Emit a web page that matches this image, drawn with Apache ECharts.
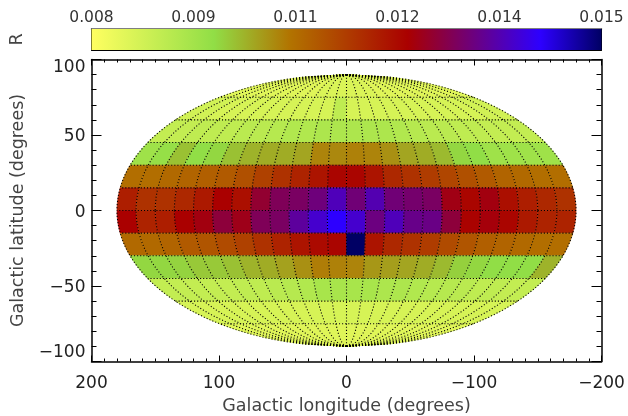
<!DOCTYPE html>
<html><head><meta charset="utf-8">
<style>html,body{margin:0;padding:0;background:#fff}#c{width:628px;height:416px}</style>
<script src="https://cdn.jsdelivr.net/npm/echarts@6/dist/echarts.min.js"></script>
</head><body><div id="c"></div>
<script>
// Colour bar
const colorbarTickLabels = ["0.008","0.009","0.011","0.012","0.014","0.015"];
const valueMin = 0.008, valueMax = 0.015;
const rampStops = [
  [0.00,[255,255,96]],[0.24,[145,222,70]],[0.39,[178,115,0]],[0.50,[175,60,0]],
  [0.62,[170,0,0]],[0.88,[45,0,255]],[1.00,[0,0,100]]
];
// Cell edges (degrees)
const lonEdges = [180,165,150,135,120,105,90,75,60,45,30,15,0,-15,-30,-45,-60,-75,-90,-105,-120,-135,-150,-165,-180];
const latEdges = [90,75,60,45,30,15,0,-15,-30,-45,-60,-75,-90];
// Cell values, one row per latitude band, from north to south, longitude 180 to -180
const bandN75 = [.00849,.00849,.00849,.00849,.00849,.00849,.00849,.00849,.00849,.00856,.00856,.00856,.00856,.00856,.00856,.00849,.00849,.00849,.00849,.00849,.00849,.00849,.00849,.00849];
const bandN60 = [.0087,.0087,.00863,.00863,.00863,.00863,.00863,.00863,.00863,.00863,.00863,.00898,.00863,.00863,.00863,.00863,.00863,.00863,.00863,.00863,.00863,.00863,.0087,.0087];
const bandN45 = [.00891,.00891,.00898,.00898,.00898,.00905,.00905,.00912,.00919,.00919,.00926,.00926,.00926,.00926,.00926,.00919,.00912,.00905,.00905,.00898,.00898,.00891,.00891,.00891];
const bandN30 = [.00947,.00961,.00996,.00968,.00975,.00996,.0101,.01017,.01017,.01024,.01056,.01052,.01059,.01056,.01045,.01024,.01017,.01003,.00975,.00968,.00947,.00947,.00947,.00947];
const bandN15 = [.0108,.0108,.01087,.01094,.01101,.01108,.01122,.01143,.01164,.01185,.01206,.01227,.01227,.01206,.01178,.01164,.0115,.01136,.01122,.01108,.01094,.01087,.0108,.0108];
const bandN00 = [.01192,.01164,.01164,.01178,.01199,.01234,.01213,.01269,.01297,.01304,.01322,.01367,.01318,.0136,.01318,.01311,.01304,.01248,.01227,.01245,.01213,.01192,.01178,.01164];
const bandS00 = [.01234,.01185,.01192,.01234,.01245,.01276,.01252,.01297,.01304,.01346,.01381,.01416,.01381,.01325,.01367,.01332,.01329,.01276,.01231,.01241,.01227,.01199,.01185,.01185];
const bandS15 = [.01087,.01087,.01094,.01108,.01115,.01129,.01143,.01164,.01185,.01206,.0122,.01227,.015,.01206,.01178,.01164,.0115,.01129,.01115,.01101,.01094,.01087,.0108,.0108];
const bandS30 = [.00975,.00975,.00979,.00989,.00989,.00996,.0101,.01017,.01028,.01045,.01063,.01059,.01056,.01038,.01031,.01024,.01017,.01003,.00982,.00975,.00968,.00968,.00968,.0101];
const bandS45 = [.00891,.00891,.00891,.00891,.00891,.00898,.00898,.00905,.00912,.00919,.00933,.00933,.00933,.00933,.00926,.00926,.00919,.00912,.00912,.00905,.00898,.00898,.00891,.00891];
const bandS60 = [.00863,.00863,.00863,.00863,.00863,.00863,.00863,.00863,.00863,.00863,.00863,.00863,.00863,.00863,.00863,.00863,.00863,.00863,.00863,.00863,.00863,.00863,.00863,.00863];
const bandS75 = [.00849,.00849,.00849,.00849,.00849,.00849,.00849,.00849,.00849,.00849,.00849,.00849,.00849,.00849,.00849,.00849,.00849,.00849,.00849,.00849,.00849,.00849,.00849,.00849];
const bands = [bandN75,bandN60,bandN45,bandN30,bandN15,bandN00,bandS00,bandS15,bandS30,bandS45,bandS60,bandS75];
// Graticule (degrees)
const meridians = lonEdges;
const parallels = [75,60,45,30,15,0,-15,-30,-45,-60,-75];

function rampColor(v){
  const t = Math.min(1,Math.max(0,(v-valueMin)/(valueMax-valueMin)));
  for(let i=1;i<rampStops.length;i++){
    if(t<=rampStops[i][0]){
      const a=rampStops[i-1],b=rampStops[i],f=(t-a[0])/(b[0]-a[0]);
      return 'rgb('+a[1].map((c,k)=>Math.round(c+(b[1][k]-c)*f)).join(',')+')';
    }
  }
  return 'rgb(0,0,100)';
}
function project(lon,lat){ return [lon*Math.sqrt(Math.max(0,1-(lat/90)*(lat/90))),lat]; }

const cellData=[];
bands.forEach((row,r)=>row.forEach((v,c)=>cellData.push([lonEdges[c],lonEdges[c+1],latEdges[r],latEdges[r+1],v])));

function renderCell(params,api){
  const lonA=api.value(0),lonB=api.value(1),latA=api.value(2),latB=api.value(3);
  const pts=[];
  for(let i=0;i<=8;i++){const la=latA+(latB-latA)*i/8;pts.push(api.coord(project(lonA,la)));}
  for(let i=8;i>=0;i--){const la=latA+(latB-latA)*i/8;pts.push(api.coord(project(lonB,la)));}
  const col=rampColor(api.value(4));
  return {type:'polygon',shape:{points:pts},style:{fill:col,stroke:col,lineWidth:0.6}};
}
const stepsNorth=[];for(let la=90;la>=0;la-=1.5)stepsNorth.push(la);
const stepsSouth=stepsNorth.map(la=>-la);
const stepsLon=[];for(let lo=-180;lo<=180;lo+=3)stepsLon.push(lo);
const dotted={color:'#000',width:1.1,type:[1.1,2]};
const lineBase={type:'line',xAxisIndex:2,yAxisIndex:2,silent:true,showSymbol:false,symbol:'none',z:5,lineStyle:dotted};
const gridLines=[];
meridians.forEach(m=>{
  gridLines.push({...lineBase,data:stepsNorth.map(la=>project(m,la))});
  gridLines.push({...lineBase,data:stepsSouth.map(la=>project(m,la))});
});
parallels.forEach(p=>gridLines.push({...lineBase,data:stepsLon.map(lo=>project(lo,p))}));

const blackLine={show:true,onZero:false,lineStyle:{color:'#000',width:1.5}};
const tickStyle={color:'#000',width:1};
const tickFont={fontFamily:'DejaVu Sans',fontSize:17,color:'#222'};
const titleFont={fontFamily:'DejaVu Sans',fontSize:17.5,color:'#444'};
const fmtMinus=v=>String(v).replace('-','\u2212');
const fmtLat=v=>(Math.abs(v)===100?fmtMinus(v):'{m|'+fmtMinus(v)+'}');

const barStops=rampStops.map(s=>({offset:s[0],color:'rgb('+s[1].join(',')+')'}));

const chart=echarts.init(document.getElementById('c'),null,{renderer:'canvas'});
chart.setOption({
  animation:false,backgroundColor:'#fff',
  grid:[
    {left:91.5,top:29,width:510,height:21,outerBoundsMode:'none'},
    {left:91.5,top:59.5,width:510,height:302,outerBoundsMode:'none'}
  ],
  xAxis:[
    {gridIndex:0,type:'value',position:'top',min:0,max:5,interval:1,axisLine:{show:true,onZero:false,lineStyle:{color:'#555',width:1.5}},
     axisTick:{show:true,inside:true,length:3,lineStyle:tickStyle},minorTick:{show:true,splitNumber:2,length:3,lineStyle:tickStyle},
     splitLine:{show:false},axisLabel:{...tickFont,fontSize:15.5,color:'#333',margin:3,formatter:v=>colorbarTickLabels[v]}},
    {gridIndex:0,type:'value',position:'bottom',min:0,max:5,interval:1,axisLine:{show:true,onZero:false,lineStyle:{color:'#000',width:1}},
     axisTick:{show:true,inside:true,length:4,lineStyle:tickStyle},minorTick:{show:true,splitNumber:2,length:4,lineStyle:tickStyle},
     splitLine:{show:false},axisLabel:{show:false}},
    {gridIndex:1,type:'value',position:'bottom',inverse:true,min:-200,max:200,interval:100,axisLine:blackLine,
     axisTick:{show:true,inside:true,length:6,lineStyle:tickStyle},minorTick:{show:true,splitNumber:10,length:3,lineStyle:tickStyle},
     splitLine:{show:false},axisLabel:{...tickFont,margin:14,formatter:fmtMinus},
     name:'Galactic longitude (degrees)',nameLocation:'middle',nameGap:33,nameTextStyle:titleFont},
    {gridIndex:1,type:'value',position:'top',inverse:true,min:-200,max:200,interval:100,axisLine:blackLine,
     axisTick:{show:true,inside:true,length:6,lineStyle:tickStyle},minorTick:{show:true,splitNumber:10,length:3,lineStyle:tickStyle},
     splitLine:{show:false},axisLabel:{show:false}}
  ],
  yAxis:[
    {gridIndex:0,type:'value',position:'left',min:0,max:1,axisLine:{show:true,onZero:false,lineStyle:{color:'#000',width:1}},axisTick:{show:false},
     splitLine:{show:false},axisLabel:{show:false},name:'R',nameLocation:'middle',nameGap:65,nameRotate:90,nameTextStyle:titleFont},
    {gridIndex:0,type:'value',position:'right',min:0,max:1,axisLine:{show:true,onZero:false,lineStyle:{color:'#000',width:1}},axisTick:{show:false},
     splitLine:{show:false},axisLabel:{show:false}},
    {gridIndex:1,type:'value',position:'left',min:-100,max:100,interval:50,axisLine:blackLine,
     axisTick:{show:true,inside:true,length:10,lineStyle:tickStyle},minorTick:{show:true,splitNumber:5,length:5,lineStyle:tickStyle},
     splitLine:{show:false},axisLabel:{...tickFont,margin:6,formatter:fmtLat,verticalAlignMinLabel:'bottom',verticalAlignMaxLabel:'top',
       rich:{m:{fontFamily:'DejaVu Sans',fontSize:17,color:'#222',padding:[4,0,0,0]}}},
     name:'Galactic latitude (degrees)',nameLocation:'middle',nameGap:64,nameRotate:90,nameTextStyle:titleFont},
    {gridIndex:1,type:'value',position:'right',min:-100,max:100,interval:50,axisLine:blackLine,
     axisTick:{show:true,inside:true,length:10,lineStyle:tickStyle},minorTick:{show:true,splitNumber:5,length:5,lineStyle:tickStyle},
     splitLine:{show:false},axisLabel:{show:false}}
  ],
  series:[
    {type:'custom',xAxisIndex:0,yAxisIndex:0,silent:true,z:1,data:[[0,5]],clip:false,
     renderItem:(p,api)=>{
       const a=api.coord([api.value(0),1]),b=api.coord([api.value(1),0]);
       return {type:'rect',shape:{x:a[0],y:a[1],width:b[0]-a[0],height:b[1]-a[1]},
         style:{fill:new echarts.graphic.LinearGradient(0,0,1,0,barStops)}};
     }},
    {type:'custom',xAxisIndex:2,yAxisIndex:2,silent:true,z:2,data:cellData,encode:{x:0,y:2},renderItem:renderCell},
    ...gridLines
  ]
});
</script></body></html>
